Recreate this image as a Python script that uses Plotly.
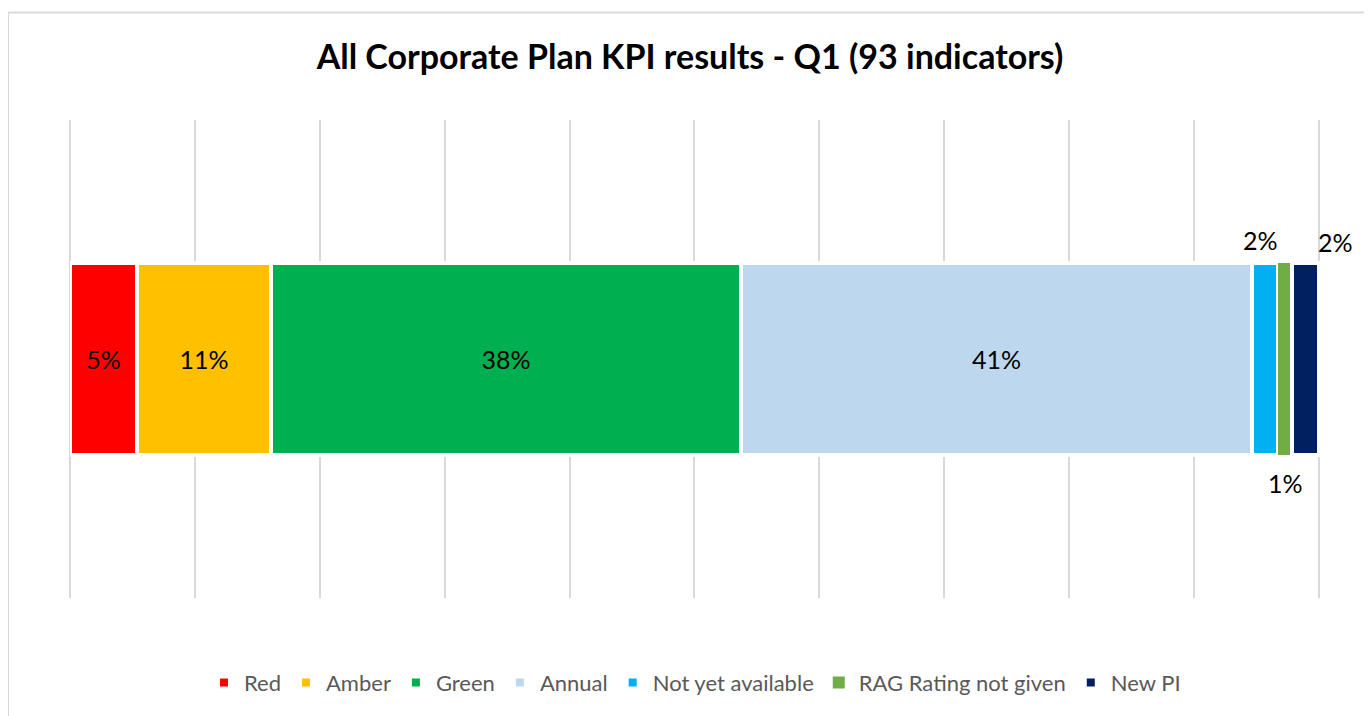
import plotly.graph_objects as go

CATEGORIES = ["Red", "Amber", "Green", "Annual", "Not yet available", "RAG Rating not given", "New PI"]
SHARES = [5.38, 10.75, 37.63, 40.86, 2.15, 1.08, 2.15]
LABELS = ["5%", "11%", "38%", "41%", "2%", "1%", "2%"]
COLORS = ["#FF0000", "#FFC000", "#00B050", "#BDD7EE", "#00B0F0", "#70AD47", "#002060"]
INSIDE = [True, True, True, True, False, False, False]

FONT = "Lato, 'Open Sans', sans-serif"
# the page body adds an 8px offset, so the figure is drawn 8px smaller
W, H = 1364, 708
L, R, T, B = 62, 52, 112, 116
PW, PH = W - L - R, H - T - B

fig = go.Figure()
for name, val, lab, col, inside in zip(CATEGORIES, SHARES, LABELS, COLORS, INSIDE):
    fig.add_trace(go.Bar(
        y=["Q1"], x=[val], name=name, orientation="h",
        marker=dict(color=col, line=dict(color="white", width=0 if name.startswith("RAG") else 4)),
        width=0.4,
        text=[lab] if inside else None,
        textposition="inside", insidetextanchor="middle",
        textfont=dict(color="black", size=25, family=FONT),
        hovertemplate="%{x:.1f}%<extra>" + name + "</extra>",
    ))

# labels of the thin segments sit outside the bar
cum = 0
starts = []
for v in SHARES:
    starts.append(cum)
    cum += v
ann = []
ann.append(dict(x=starts[4] + SHARES[4] / 2, y=0.25, text=LABELS[4], yanchor="middle", xshift=-4))
ann.append(dict(x=starts[5] + SHARES[5] / 2, y=-0.26, text=LABELS[5], yanchor="middle"))
ann.append(dict(x=starts[6] + SHARES[6] / 2, y=0.245, text=LABELS[6], xanchor="left",
                yanchor="middle", xshift=11))
for a in ann:
    a.update(xref="x", yref="y", showarrow=False, font=dict(size=25, color="black", family=FONT))


def px(x):
    return (x - L) / PW


def py(y):
    return (H - B - y) / PH


fig.update_layout(
    width=W, height=H,
    barmode="stack",
    bargap=0,
    paper_bgcolor="white", plot_bgcolor="white",
    margin=dict(l=L, r=R, t=T, b=B),
    title=dict(text="<b>All Corporate Plan KPI results - Q1 (93 indicators)</b>",
               x=0.5, xanchor="center", y=1 - 49 / H, yanchor="middle",
               font=dict(size=34, color="black", family=FONT)),
    xaxis=dict(range=[0, 100.1], tickvals=[0, 10, 20, 30, 40, 50, 60, 70, 80, 90, 100],
               showticklabels=False, showgrid=True,
               gridcolor="#D9D9D9", gridwidth=2, zeroline=True, zerolinecolor="#D9D9D9",
               zerolinewidth=2, fixedrange=True),
    yaxis=dict(range=[-0.5, 0.5], showticklabels=False, showgrid=False, zeroline=False),
    legend=dict(orientation="h", x=0.5, xanchor="center", y=py(677), yanchor="middle",
                font=dict(size=22, color="#595959", family=FONT), traceorder="normal",
                itemwidth=30),
    showlegend=True,
    annotations=ann,
    shapes=[dict(type="rect", xref="paper", yref="paper",
                 x0=px(0), x1=px(1362), y0=py(4), y1=py(714),
                 line=dict(color="#D9D9D9", width=2), layer="below")],
)

fig.write_html("out.html")
